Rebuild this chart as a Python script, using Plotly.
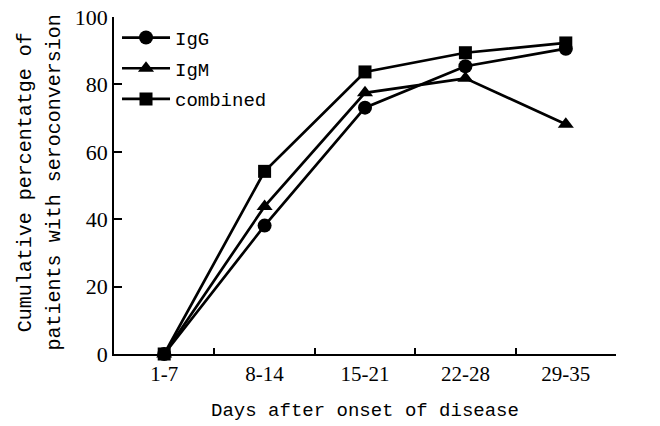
import plotly.graph_objects as go

categories = ["1-7", "8-14", "15-21", "22-28", "29-35"]
igg = [0, 38.1, 73.1, 85.4, 90.6]
igm = [0, 43.8, 77.5, 81.8, 68.2]
combined = [0, 54.2, 83.7, 89.4, 92.3]
y_ticks = [0, 20, 40, 60, 80, 100]
y_title_lines = ["Cumulative percentatge of", "patients with seroconversion"]
x_title = "Days after onset of disease"

MONO = "Liberation Mono"
SERIF = "Liberation Serif"
fig = go.Figure()
series = [("IgG", igg, "circle"), ("IgM", igm, "triangle-up"), ("combined", combined, "square")]
for i, (name, vals, sym) in enumerate(series):
    fig.add_trace(go.Scatter(
        x=categories, y=vals, name=name, mode="lines+markers",
        line=dict(color="black", width=2.7),
        marker=dict(symbol=sym, size=14 if sym != "square" else 13, color="black"),
        cliponaxis=False, legendgroup=name,
    ))

for xp, txt in zip([-0.177, -0.119], y_title_lines):
    fig.add_annotation(
        x=xp, y=0.51, xref="paper", yref="paper", text=txt, textangle=-90,
        showarrow=False, xanchor="center", yanchor="middle",
        font=dict(family=MONO, size=20, color="black"),
    )

fig.update_layout(
    width=660, height=426,
    margin=dict(l=114, r=44, t=17, b=72, autoexpand=False),
    paper_bgcolor="white", plot_bgcolor="white",
    font=dict(family=MONO, size=19, color="black"),
    showlegend=True,
    legend=dict(x=0.006, y=0.995, xanchor="left", yanchor="top", bgcolor="rgba(0,0,0,0)",
                font=dict(family=MONO, size=19), tracegroupgap=3, itemwidth=48),
    xaxis=dict(
        type="category", range=[-0.5, 4.5], tickson="boundaries", automargin=False,
        ticks="inside", ticklen=6, tickwidth=1.5, tickcolor="black",
        tickfont=dict(family=SERIF, size=21),
        showline=True, linecolor="black", linewidth=1.5, showgrid=False,
        title=dict(text=x_title, standoff=18, font=dict(family=MONO, size=19)),
    ),
    yaxis=dict(
        range=[0, 100], tickvals=y_ticks, ticks="inside", ticklen=8, tickwidth=1.5,
        tickcolor="black", showline=True, linecolor="black", linewidth=1.5,
        tickfont=dict(family=SERIF, size=22),
        showgrid=False, zeroline=False, automargin=False,
    ),
)
fig.write_html("out.html", config={"displayModeBar": False},
               post_script="document.body.style.margin='0';")
